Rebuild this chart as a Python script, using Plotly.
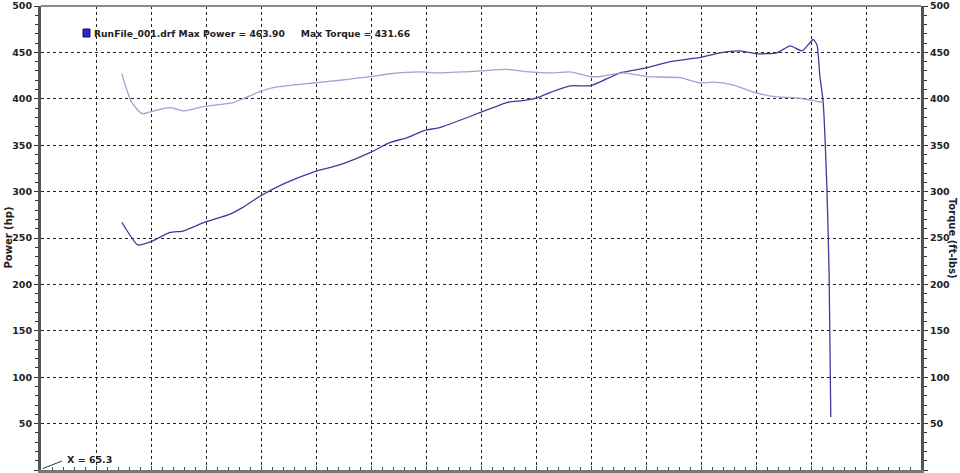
import plotly.graph_objects as go

# x in chart grid units (one unit per vertical grid division)
power_x = [1.47, 1.76, 1.98, 2.35, 2.58, 2.98, 3.44, 3.67, 3.98, 4.40, 4.95, 5.44,
           5.98, 6.35, 6.65, 6.98, 7.25, 7.98, 8.47, 8.76, 9.02, 9.25, 9.62, 9.98,
           10.16, 10.53, 10.98, 11.44, 11.93, 12.35, 12.71, 13.02, 13.38, 13.62,
           13.84, 14.04, 14.11, 14.16, 14.22, 14.29, 14.33, 14.36]
power_hp = [267, 242.5, 245.7, 256, 257.5, 267, 275.8, 283, 295, 308, 321, 329,
            342, 353, 358, 366, 369, 385, 396, 398, 401, 406.6, 414, 414,
            418, 428, 433, 440, 444, 449.6, 451.7, 448.5, 449.6, 457,
            451.7, 463.9, 458, 425, 397, 302, 209, 57]

torque_x = [1.47, 1.65, 1.84, 1.98, 2.35, 2.58, 2.95, 3.49, 3.75, 3.98, 4.22, 4.95,
            5.44, 5.80, 5.98, 6.35, 6.89, 7.20, 7.98, 8.47, 8.89, 9.31, 9.62, 9.98,
            10.16, 10.58, 11.02, 11.62, 11.98, 12.22, 12.58, 13.02, 13.38, 13.75, 14.22]
torque_ftlb = [427, 396, 384, 386, 390.5, 387, 391.6, 396, 402, 407.7, 412, 417,
               420, 422.7, 423.8, 427, 429, 428, 430, 431.7, 429, 428, 429, 424,
               424, 428, 424, 422.7, 417, 418, 415, 406, 402, 401, 396]

y_ticks = [0, 50, 100, 150, 200, 250, 300, 350, 400, 450, 500]

POWER_COLOR = "#3c3c9c"
TORQUE_COLOR = "#a2a2d6"
FONT = "DejaVu Sans"

fig = go.Figure()
fig.add_trace(go.Scatter(x=power_x, y=power_hp, mode="lines",
                         line=dict(color=POWER_COLOR, width=1.3, shape="spline", smoothing=0.5),
                         name="Power", yaxis="y"))
fig.add_trace(go.Scatter(x=torque_x, y=torque_ftlb, mode="lines",
                         line=dict(color=TORQUE_COLOR, width=1.3, shape="spline", smoothing=0.6),
                         name="Torque", yaxis="y2"))

axis_font = dict(family=FONT, size=9.5, color="#222222", weight="bold")
fig.update_layout(
    width=960, height=473,
    margin=dict(l=41, r=39, t=6, b=3),
    paper_bgcolor="white", plot_bgcolor="white",
    showlegend=False,
    xaxis=dict(range=[0, 16], dtick=1, showticklabels=False, showgrid=True,
               gridcolor="#222222", griddash="dot", gridwidth=1, automargin=False,
               zeroline=False, ticks="inside", ticklen=4, tickcolor="#444",
               minor=dict(dtick=0.2, ticks="inside", ticklen=3, tickcolor="#444"),
               showline=True, linecolor="#777777", linewidth=3, fixedrange=True),
    yaxis=dict(range=[0, 500], tickvals=y_ticks, showgrid=True, gridcolor="#222222",
               griddash="dot", gridwidth=1, zeroline=False, automargin=False,
               ticks="outside", ticklen=4, tickcolor="#333", tickfont=axis_font,
               minor=dict(dtick=10, ticks="outside", ticklen=3, tickcolor="#333"),
               showline=True, linecolor="#555555", linewidth=3),
    yaxis2=dict(range=[0, 500], tickvals=y_ticks, overlaying="y", side="right",
                showgrid=False, zeroline=False, ticks="outside", ticklen=4, tickcolor="#333",
                tickfont=axis_font, automargin=False,
                minor=dict(dtick=10, ticks="outside", ticklen=3, tickcolor="#333"),
                showline=True, linecolor="#555555", linewidth=3),
)

# top frame line
fig.add_shape(type="line", xref="paper", yref="paper", x0=0, x1=1, y0=1, y1=1,
              line=dict(color="#8a8a8a", width=2))

# axis titles
fig.add_annotation(text="<b>Power (hp)</b>", xref="paper", yref="paper", x=-0.038, y=0.5,
                   textangle=-90, showarrow=False, xanchor="center", yanchor="middle",
                   font=dict(family=FONT, size=10, color="#222"))
fig.add_annotation(text="<b>Torque (ft-lbs)</b>", xref="paper", yref="paper", x=1.0365, y=0.5,
                   textangle=90, showarrow=False, xanchor="center", yanchor="middle",
                   font=dict(family=FONT, size=10, color="#222"))

# legend / header text
fig.add_shape(type="rect", xref="paper", yref="paper",
              x0=(83 - 41) / 880, x1=(90 - 41) / 880, y0=(470 - 37) / 464, y1=(470 - 29) / 464,
              fillcolor="#2a2ad0", line=dict(color="#10105a", width=1))
fig.add_annotation(text="<b>RunFile_001.drf Max Power = 463.90&nbsp;&nbsp;&nbsp;&nbsp;&nbsp;Max Torque = 431.66</b>",
                   xref="paper", yref="paper", x=(92 - 41) / 880, y=(470 - 33) / 464,
                   xanchor="left", yanchor="middle", showarrow=False,
                   font=dict(family=FONT, size=9.2, color="#222"))

# X readout
fig.add_annotation(text="<b>X = 65.3</b>", xref="paper", yref="paper", x=(65 - 41) / 880,
                   y=(470 - 459) / 464, xanchor="left", yanchor="middle", showarrow=False,
                   font=dict(family=FONT, size=9.5, color="#222"))
fig.add_shape(type="line", xref="paper", yref="paper", x0=0.002, y0=0.003,
              x1=(62 - 41) / 880, y1=(470 - 461) / 464, line=dict(color="#333", width=1))

fig.write_html("out.html", config={"displayModeBar": False},
               post_script="document.body.style.margin='0';document.body.style.overflow='hidden';")
